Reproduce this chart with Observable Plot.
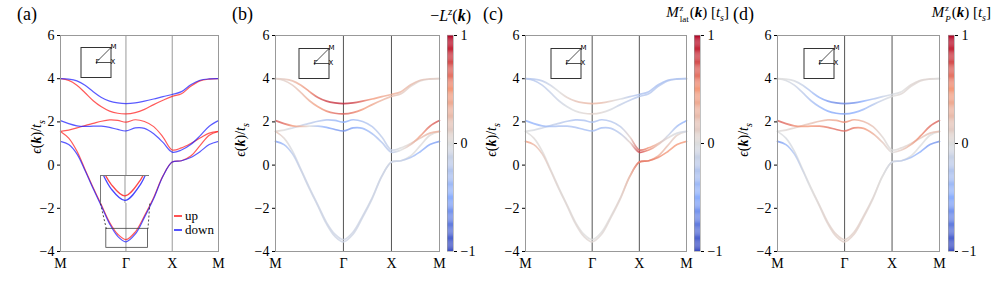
<!DOCTYPE html>
<html><head><meta charset="utf-8">
<script src="https://cdn.jsdelivr.net/npm/d3@7"></script>
<script src="https://cdn.jsdelivr.net/npm/@observablehq/plot@0.6"></script>
<style>
body{margin:0;background:#fff}
#root{position:relative;width:997px;height:281px;overflow:hidden;font-family:"Liberation Serif","Times New Roman",serif;color:#000;background:#fff}
#root svg.serif, #root svg.serif text{font-family:"Liberation Serif","Times New Roman",serif !important}
#root svg.bz text{font-family:"DejaVu Sans",sans-serif !important}
.abs{position:absolute;white-space:nowrap}
.plabel{font-size:18px}
.ylab{font-size:14px;transform:translate(-50%,-50%) rotate(-90deg)}
.cbt{font-size:16px;top:5px}
</style></head><body><div id="root"></div>
<script>
// ---------- data ----------
const kPath = [0, 0.177, 0.354, 0.530, 0.707, 0.884, 1.061, 1.237, 1.414, 1.614, 1.814, 2.014, 2.214, 2.414, 2.614, 2.814, 3.014, 3.214, 3.414];
const kTicks = [0, 1.414, 2.414, 3.414];
const kLabels = ["M", "Γ", "X", "M"];
const yTicks = [-4, -2, 0, 2, 4, 6];
const cbTicks = [-1, 0, 1];

// band energies (units of t_s) along M-Γ-X-M
const E_up1 = [1.56, 1.25, 0.65, -0.2, -1.05, -1.85, -2.65, -3.2, -3.45, -3.1, -2.35, -1.5, -0.5, 0.14, 0.2, 0.42, 0.9, 1.38, 1.56];
const E_dn1 = [1.1, 0.95, 0.52, -0.25, -1.1, -1.9, -2.72, -3.3, -3.55, -3.2, -2.42, -1.55, -0.52, 0.14, 0.2, 0.35, 0.62, 0.95, 1.1];
const E_up2 = [1.56, 1.62, 1.72, 1.83, 1.93, 2.03, 2.09, 2.07, 1.99, 2.1, 2.02, 1.78, 1.3, 0.7, 0.8, 1.0, 1.25, 1.48, 1.56];
const E_dn2 = [2.06, 1.92, 1.82, 1.79, 1.8, 1.8, 1.75, 1.65, 1.58, 1.72, 1.7, 1.45, 1.05, 0.6, 0.7, 0.95, 1.35, 1.8, 2.06];
const E_up3 = [4.0, 3.92, 3.7, 3.35, 2.98, 2.7, 2.5, 2.4, 2.37, 2.43, 2.58, 2.8, 3.0, 3.18, 3.3, 3.65, 3.9, 3.98, 4.0];
const E_dn3 = [4.0, 3.98, 3.9, 3.7, 3.4, 3.13, 2.96, 2.88, 2.85, 2.88, 2.96, 3.06, 3.17, 3.27, 3.4, 3.72, 3.93, 3.99, 4.0];

// (b) -L^z(k)
const L_up1 = [0.25, 0.05, -0.05, -0.1, -0.1, -0.1, -0.1, -0.1, -0.1, -0.1, -0.1, -0.1, -0.1, -0.08, -0.05, 0, 0.02, 0.03, 0.05];
const L_dn1 = [-0.6, -0.4, -0.2, -0.12, -0.1, -0.1, -0.1, -0.1, -0.1, -0.1, -0.1, -0.1, -0.1, -0.1, -0.15, -0.3, -0.45, -0.55, -0.6];
const L_up2 = [0.1, 0.0, -0.1, -0.15, -0.2, -0.25, -0.3, -0.4, -0.5, -0.4, -0.3, -0.25, -0.2, -0.15, 0.0, 0.1, 0.2, 0.3, 0.35];
const L_dn2 = [0.75, 0.65, 0.5, 0.3, 0.0, -0.3, -0.5, -0.6, -0.65, -0.55, -0.45, -0.35, -0.25, -0.2, 0.0, 0.2, 0.45, 0.65, 0.75];
const L_up3 = [0.05, 0.1, 0.15, 0.25, 0.35, 0.45, 0.55, 0.65, 0.7, 0.6, 0.5, 0.4, 0.3, 0.25, 0.15, 0.1, 0.05, 0.05, 0.05];
const L_dn3 = [0.1, 0.15, 0.25, 0.4, 0.55, 0.7, 0.8, 0.85, 0.9, 0.8, 0.65, 0.5, 0.4, 0.35, 0.3, 0.25, 0.2, 0.15, 0.1];

// (c) M^z_lat(k)
const ML_up1 = [0.0, 0.03, 0.03, 0.03, 0.03, 0.02, 0.02, 0.0, 0.0, 0.0, 0.03, 0.08, 0.25, 0.6, 0.5, 0.35, 0.2, 0.1, 0.0];
const ML_dn1 = [0.5, 0.3, 0.15, 0.08, 0.05, 0.05, 0.05, 0.05, 0.05, 0.05, 0.05, 0.08, 0.25, 0.6, 0.6, 0.55, 0.5, 0.5, 0.5];
const ML_up2 = [0.0, -0.05, -0.1, -0.15, -0.2, -0.25, -0.3, -0.3, -0.3, -0.3, -0.25, -0.2, 0.1, 0.7, 0.5, 0.25, 0.05, -0.05, -0.1];
const ML_dn2 = [-0.5, -0.45, -0.4, -0.35, -0.3, -0.3, -0.3, -0.35, -0.35, -0.35, -0.3, -0.2, 0.1, 0.8, 0.55, 0.2, -0.1, -0.35, -0.5];
const ML_up3 = [-0.25, -0.25, -0.2, -0.15, -0.1, -0.05, 0.0, 0.05, 0.1, 0.05, -0.05, -0.15, -0.2, -0.25, -0.25, -0.25, -0.25, -0.25, -0.25];
const ML_dn3 = [-0.25, -0.25, -0.2, -0.1, 0.0, 0.1, 0.2, 0.25, 0.3, 0.25, 0.1, -0.05, -0.2, -0.3, -0.3, -0.3, -0.3, -0.28, -0.25];

// (d) M^z_P(k)
const MP_up1 = [0.0, -0.05, -0.05, 0.0, 0.03, 0.05, 0.08, 0.1, 0.1, 0.1, 0.08, 0.05, 0.03, 0.0, 0.0, 0.0, 0.0, 0.0, 0.0];
const MP_dn1 = [-0.65, -0.45, -0.25, -0.1, 0.0, 0.05, 0.08, 0.1, 0.1, 0.1, 0.08, 0.05, 0.0, -0.1, -0.2, -0.35, -0.5, -0.6, -0.65];
const MP_up2 = [0.0, 0.05, 0.1, 0.15, 0.2, 0.25, 0.3, 0.4, 0.55, 0.4, 0.3, 0.2, 0.05, 0.0, 0.05, 0.1, 0.15, 0.2, 0.25];
const MP_dn2 = [0.7, 0.65, 0.55, 0.5, 0.5, 0.55, 0.6, 0.65, 0.65, 0.6, 0.5, 0.35, 0.15, 0.0, 0.15, 0.35, 0.55, 0.65, 0.7];
const MP_up3 = [0.0, -0.05, -0.1, -0.2, -0.3, -0.4, -0.5, -0.55, -0.55, -0.5, -0.4, -0.25, -0.1, 0.0, 0.05, 0.05, 0.05, 0.05, 0.0];
const MP_dn3 = [0.0, 0.0, -0.05, -0.15, -0.3, -0.45, -0.6, -0.7, -0.7, -0.65, -0.5, -0.3, -0.15, -0.05, 0.0, 0.05, 0.05, 0.05, 0.0];

// Brillouin-zone inset
const bzPoints = [{name: "Γ", x: 0, y: 0}, {name: "X", x: 1, y: 0}, {name: "M", x: 1, y: 1}];
const bzPath = [["Γ", "M"], ["Γ", "X"]];
// zoom inset of panel (a)
const zoomBoxK = [0.99, 1.89], zoomBoxE = [-3.83, -2.95];
const insetK = [0.865, 1.93], insetE = [-1.78, -0.48];
const insetViewK = [1.096, 1.736], insetViewE = [-3.62, -3.0];

// coolwarm colour map
const cbDomain = [-1, -0.5, 0, 0.5, 1];
const cbRange = ["#3b4cc0", "#8db0fe", "#dddddd", "#f49a7b", "#b40426"];

// ---------- helpers ----------
const root = document.getElementById("root");
const bandNames = ["up1", "dn1", "up2", "dn2", "up3", "dn3"];
const bandE = {up1: E_up1, dn1: E_dn1, up2: E_up2, dn2: E_dn2, up3: E_up3, dn3: E_dn3};
const rows = bandNames.flatMap(b => kPath.map((k, i) => ({band: b, spin: b.slice(0, 2), k, E: bandE[b][i]})));
const colorScale = Plot.scale({color: {type: "linear", domain: cbDomain, range: cbRange}});
const FONT = '"Liberation Serif", "Times New Roman", serif';
const tickFmt = d => kLabels[kTicks.indexOf(d)];

function place(el, left, top, cls) {
  el.style.position = "absolute";
  el.style.left = left + "px";
  el.style.top = top + "px";
  if (cls) el.classList.add(cls);
  root.appendChild(el);
  return el;
}
function html(str, cls, left, top, extra) {
  const d = document.createElement("div");
  d.className = "abs " + (cls || "");
  d.innerHTML = str;
  d.style.left = left + "px";
  d.style.top = top + "px";
  if (extra) Object.assign(d.style, extra);
  root.appendChild(d);
  return d;
}

const ML = 50, MR = 8;
function mainPlot(frameLeft, frameRight, ruleColor, marks) {
  const p = Plot.plot({
    width: frameRight - frameLeft + ML + MR, height: 281,
    marginTop: 35, marginBottom: 30, marginLeft: ML, marginRight: MR,
    style: {fontFamily: FONT, fontSize: "14px", background: "transparent", overflow: "visible"},
    x: {domain: [0, 3.414], ticks: kTicks, tickFormat: tickFmt, tickSize: 0, tickPadding: 7, label: null},
    y: {domain: [-4, 6], ticks: yTicks, tickSize: 3, tickPadding: 3, label: null},
    marks: [
      Plot.ruleX([kTicks[1], kTicks[2]], {stroke: ruleColor, strokeWidth: 1}),
      ...marks,
      Plot.frame({stroke: "#999", strokeWidth: 1})
    ]
  });
  return place(p, frameLeft - ML, 0, "serif");
}

function bzInset(left, top) {
  const byName = Object.fromEntries(bzPoints.map(d => [d.name, d]));
  const p = Plot.plot({
    width: 46, height: 38, marginLeft: 0.5, marginTop: 7, marginRight: 15.5, marginBottom: 1,
    style: {background: "transparent", overflow: "visible"},
    x: {domain: [-1, 1], axis: null}, y: {domain: [-1, 1], axis: null},
    marks: [
      Plot.frame({stroke: "#333", strokeWidth: 1}),
      Plot.link(bzPath, {x1: d => byName[d[0]].x, y1: d => byName[d[0]].y, x2: d => byName[d[1]].x, y2: d => byName[d[1]].y, stroke: "#222", strokeWidth: 0.8}),
      Plot.text(bzPoints, {x: "x", y: "y", text: "name", fontFamily: "DejaVu Sans", fontSize: 7, textAnchor: "start",
        dx: d => d.name === "M" ? 1 : d.name === "X" ? 2 : -8,
        dy: d => d.name === "M" ? -5 : d.name === "X" ? 0 : 3})
    ]
  });
  return place(p, left, top, "bz");
}

function colorbar(left, ticks) {
  const steps = d3.range(-1, 1, 0.01);
  const p = Plot.plot({
    width: 32, height: 281, marginTop: 35, marginBottom: 30, marginLeft: 0, marginRight: 26,
    style: {fontFamily: FONT, fontSize: "14px", background: "transparent", overflow: "visible"},
    x: {domain: [0, 1], axis: null},
    y: {domain: [-1, 1], axis: "right", ticks: ticks, tickSize: 3, tickPadding: 4, tickFormat: d3.format("d"), label: null},
    color: {type: "linear", domain: cbDomain, range: cbRange},
    marks: [
      Plot.rect(steps, {x1: 0, x2: 1, y1: d => d, y2: d => d + 0.0105, fill: d => d + 0.005}),
      Plot.frame({stroke: "#999", strokeWidth: 0.6})
    ]
  });
  return place(p, left, 0, "serif");
}

function gradientPanel(id, frameLeft, frameRight, vals) {
  const marks = bandNames.map(b => Plot.line(rows.filter(r => r.band === b), {
    x: "k", y: "E", stroke: `url(#${id}-${b})`, strokeWidth: 1.7, strokeOpacity: 0.8, curve: "catmull-rom"
  }));
  const p = mainPlot(frameLeft, frameRight, "#555", marks);
  const xs = p.scale("x");
  const ns = "http://www.w3.org/2000/svg";
  const defs = document.createElementNS(ns, "defs");
  const x0 = xs.apply(kPath[0]), x1 = xs.apply(kPath[kPath.length - 1]);
  for (const b of bandNames) {
    const g = document.createElementNS(ns, "linearGradient");
    g.setAttribute("id", `${id}-${b}`);
    g.setAttribute("gradientUnits", "userSpaceOnUse");
    g.setAttribute("x1", x0); g.setAttribute("x2", x1);
    g.setAttribute("y1", 0); g.setAttribute("y2", 0);
    kPath.forEach((k, i) => {
      const s = document.createElementNS(ns, "stop");
      s.setAttribute("offset", (xs.apply(k) - x0) / (x1 - x0));
      s.setAttribute("stop-color", colorScale.apply(vals[b][i]));
      g.appendChild(s);
    });
    defs.appendChild(g);
  }
  p.prepend(defs);
  return p;
}

// ---------- panel (a) ----------
const spinColor = {up: "#ff1a1a", dn: "#1a1aff"};
const linesA = ["up", "dn"].map(s => Plot.line(rows.filter(r => r.spin === s), {
  x: "k", y: "E", z: "band", stroke: spinColor[s], strokeWidth: 1.2, strokeOpacity: 0.72, curve: "catmull-rom"
}));
const boxMarks = [
  Plot.rect([0], {x1: zoomBoxK[0], x2: zoomBoxK[1], y1: zoomBoxE[0], y2: zoomBoxE[1], fill: "none", stroke: "#444", strokeWidth: 0.8}),
  Plot.link([[insetK[0], zoomBoxK[0]], [insetK[1], zoomBoxK[1]]], {x1: d => d[0], y1: insetE[0], x2: d => d[1], y2: zoomBoxE[1], stroke: "#222", strokeWidth: 0.8, strokeDasharray: "2,2"})
];
const pA = mainPlot(60, 218, "#999", [...linesA, ...boxMarks]);
{
  const xs = pA.scale("x"), ys = pA.scale("y");
  const offL = 60 - ML;
  const L = offL + xs.apply(insetK[0]), R = offL + xs.apply(insetK[1]);
  const T = ys.apply(insetE[1]), B = ys.apply(insetE[0]);
  const inset = Plot.plot({
    width: R - L, height: B - T, margin: 0,
    style: {background: "#fff", overflow: "hidden"},
    x: {domain: insetViewK, axis: null}, y: {domain: insetViewE, axis: null},
    marks: [
      Plot.ruleX([kTicks[1]], {stroke: "#999"}),
      ...["up", "dn"].map(s => Plot.line(rows.filter(r => r.spin === s && r.band.endsWith("1")), {
        x: "k", y: "E", stroke: spinColor[s], strokeWidth: 1.3, strokeOpacity: 0.8, curve: "catmull-rom", clip: true
      })),
      Plot.frame({stroke: "#777", strokeWidth: 1})
    ]
  });
  place(inset, L, T);
}
bzInset(80, 40);
html(`<div style="display:flex;align-items:center;height:14px"><span style="display:inline-block;width:8px;height:1.5px;background:${spinColor.up};opacity:.75;margin-right:3px"></span>up</div>
<div style="display:flex;align-items:center;height:14px"><span style="display:inline-block;width:8px;height:1.5px;background:${spinColor.dn};opacity:.75;margin-right:3px"></span>down</div>`, "", 174, 209, {fontSize: "13px"});

// ---------- panels (b)-(d) ----------
gradientPanel("gb", 275, 439, {up1: L_up1, dn1: L_dn1, up2: L_up2, dn2: L_dn2, up3: L_up3, dn3: L_dn3});
gradientPanel("gc", 525, 686, {up1: ML_up1, dn1: ML_dn1, up2: ML_up2, dn2: ML_dn2, up3: ML_up3, dn3: ML_dn3});
gradientPanel("gd", 777, 939, {up1: MP_up1, dn1: MP_dn1, up2: MP_up2, dn2: MP_dn2, up3: MP_up3, dn3: MP_dn3});
bzInset(298, 41);
bzInset(550, 41);
bzInset(803, 41);
colorbar(447, cbTicks);
colorbar(694, cbTicks);
colorbar(948, cbTicks);

// ---------- text ----------
html("(a)", "plabel", 17, 4);
html("(b)", "plabel", 232, 4);
html("(c)", "plabel", 483, 4);
html("(d)", "plabel", 733, 4);
const yl = `<i>ϵ</i>(<b><i>k</i></b>)/<i>t</i><sub style="font-size:10px"><i>s</i></sub>`;
html(yl, "ylab", 38, 137);
html(yl, "ylab", 242, 140);
html(yl, "ylab", 493, 140);
html(yl, "ylab", 745, 140);
html(`−<i>L</i><sup style="font-size:11px"><i>z</i></sup>(<b><i>k</i></b>)`, "cbt", 0, 5, {right: (997 - 471) + "px", left: "auto"});
const stack = (sup, sub) => `<span style="display:inline-flex;flex-direction:column;vertical-align:middle;font-size:9px;line-height:11px;margin:0 1px"><span>${sup}</span><span>${sub}</span></span>`;
html(`<i>M</i>${stack("<i>z</i>", "lat")}(<b><i>k</i></b>) [<i>t</i><sub style="font-size:10px"><i>s</i></sub>]`, "cbt", 0, 3, {right: (997 - 729) + "px", left: "auto", fontSize: "15px"});
html(`<i>M</i>${stack("<i>z</i>", "<i>P</i>")}(<b><i>k</i></b>) [<i>t</i><sub style="font-size:10px"><i>s</i></sub>]`, "cbt", 0, 3, {right: (997 - 991) + "px", left: "auto", fontSize: "15px"});
</script></body></html>
